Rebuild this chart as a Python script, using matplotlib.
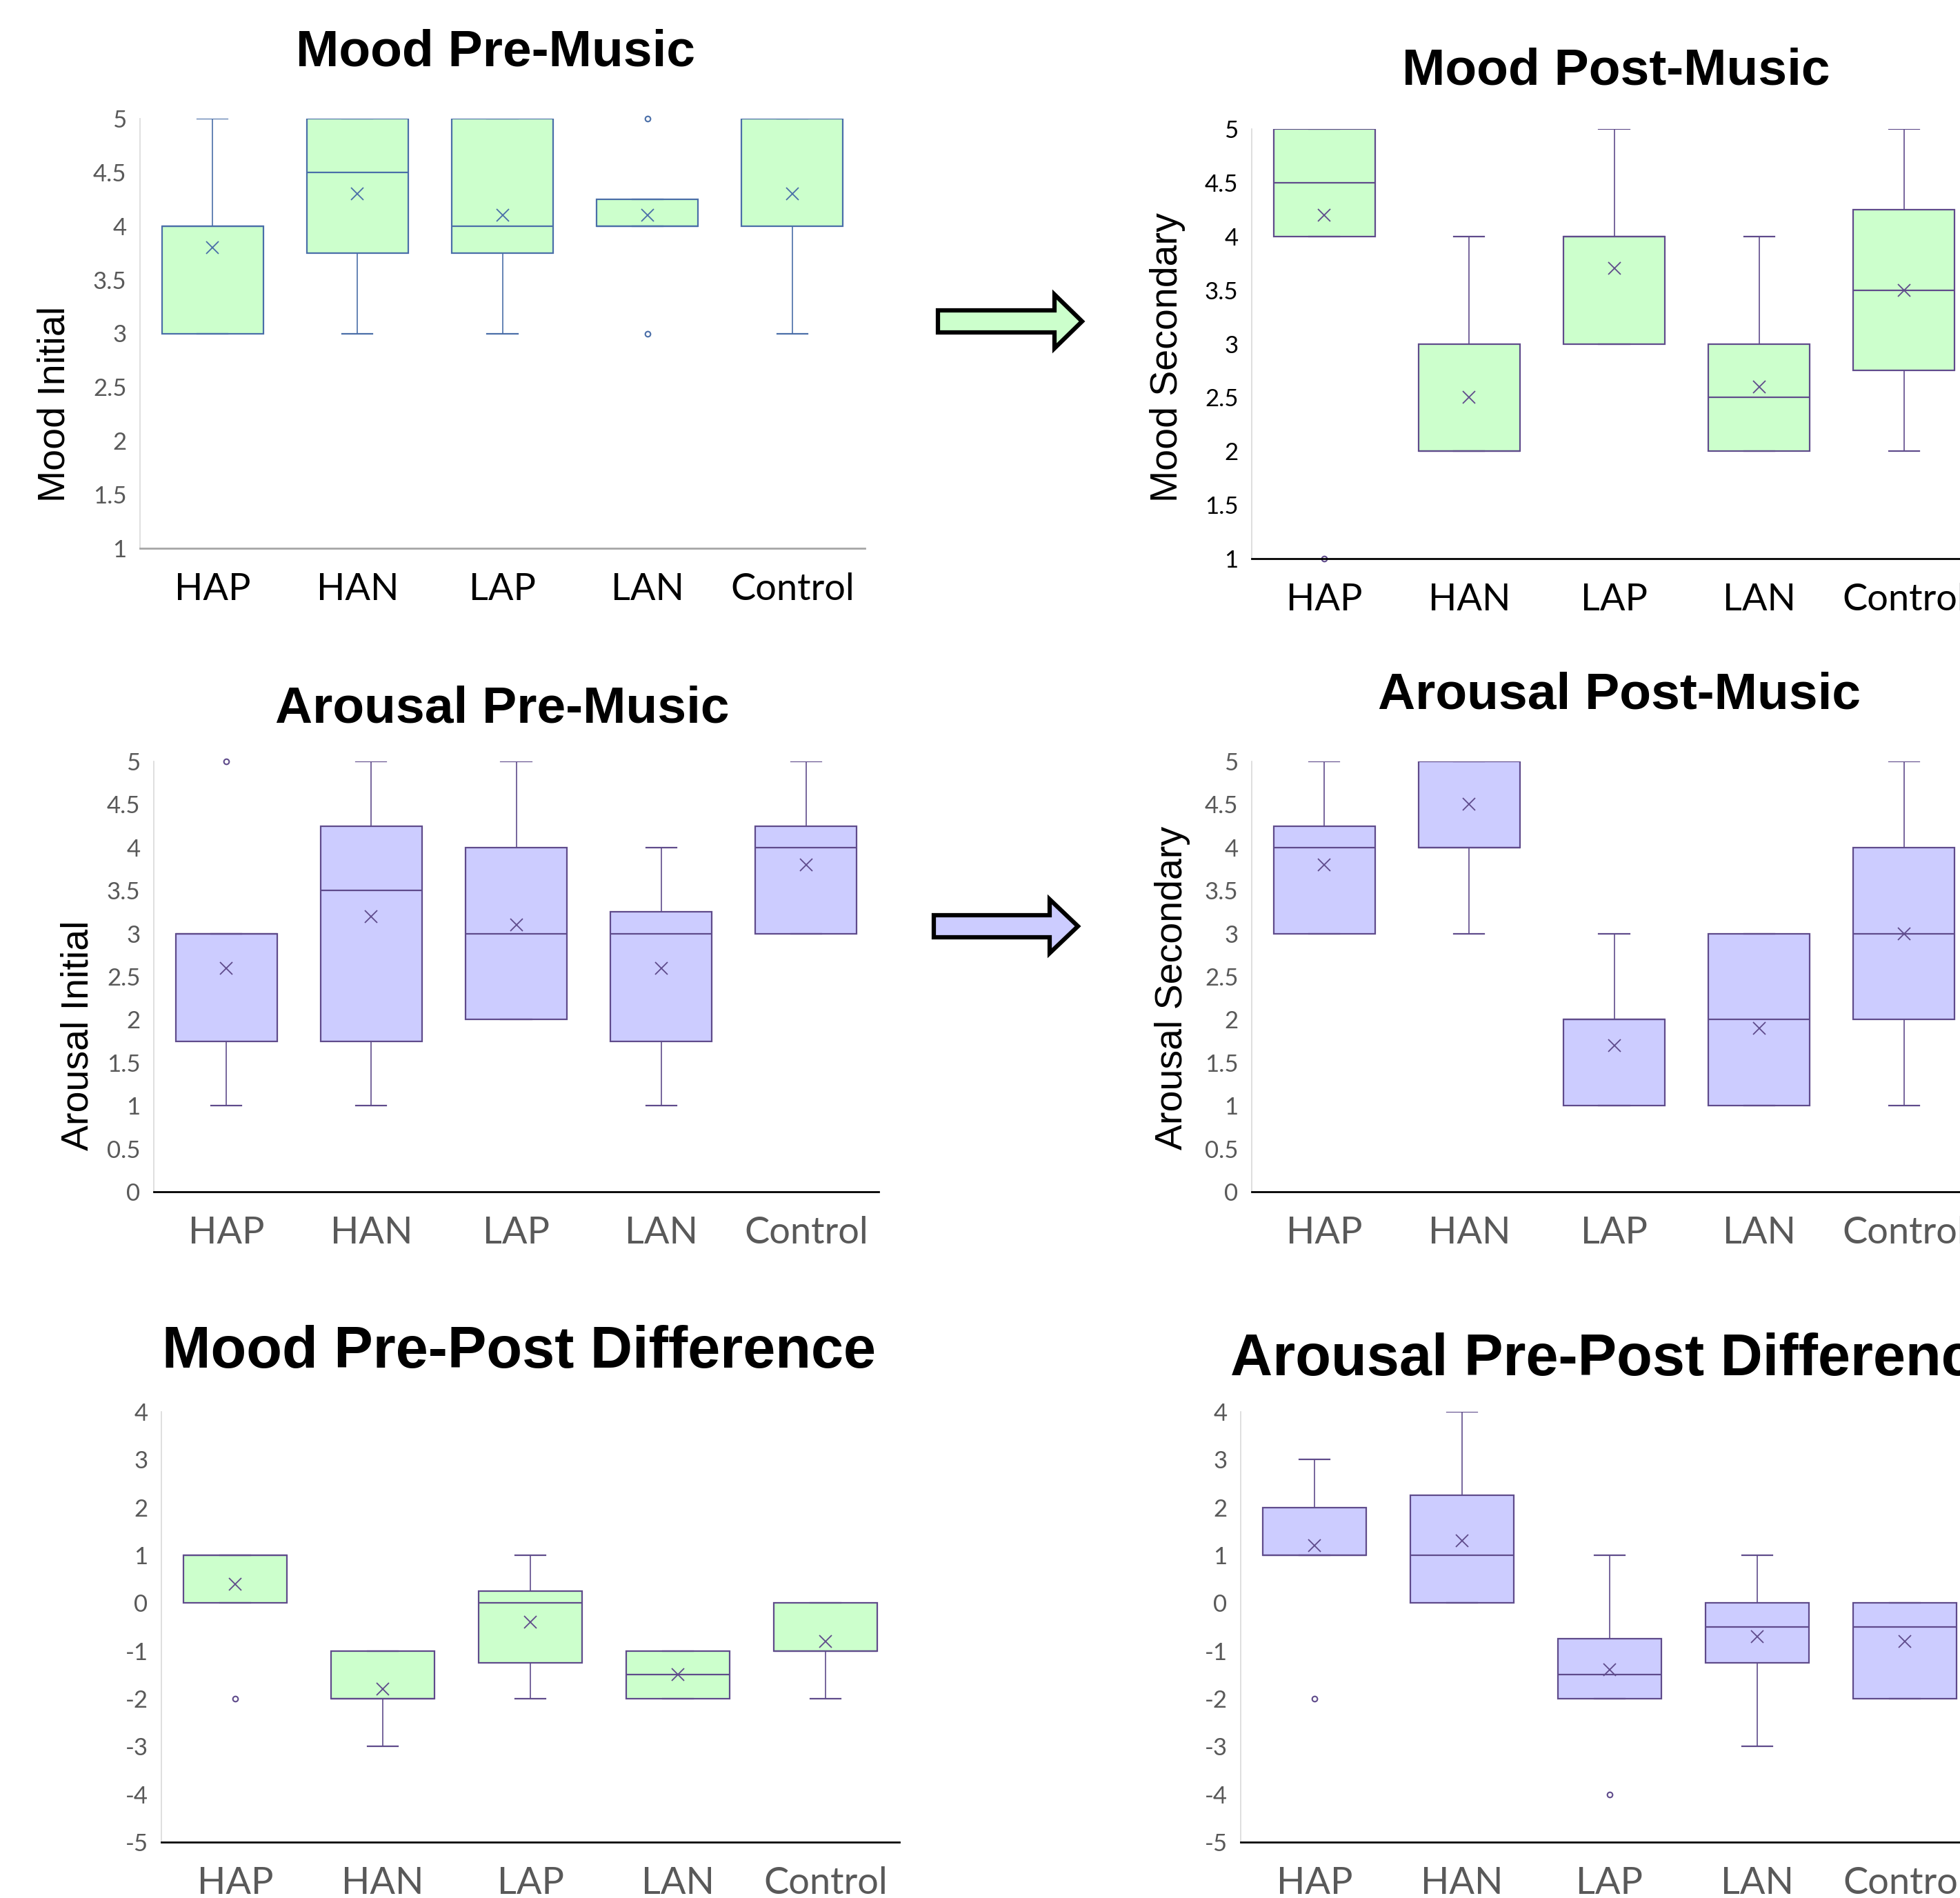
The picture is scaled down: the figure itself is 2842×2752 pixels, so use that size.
import matplotlib
matplotlib.use("Agg")
import matplotlib.pyplot as plt
from matplotlib.patches import Polygon

W, H = 2842, 2752

groups = ["HAP", "HAN", "LAP", "LAN", "Control"]

# --- Mood pre-music ---
mood_pre_q1 = [3, 3.75, 3.75, 4, 4]
mood_pre_med = [4, 4.5, 4, 4, 5]
mood_pre_q3 = [4, 5, 5, 4.25, 5]
mood_pre_lo = [3, 3, 3, 4, 3]
mood_pre_hi = [5, 5, 5, 4.25, 5]
mood_pre_mean = [3.8, 4.3, 4.1, 4.1, 4.3]
mood_pre_out = [[], [], [], [5, 3], []]

# --- Mood post-music ---
mood_post_q1 = [4, 2, 3, 2, 2.75]
mood_post_med = [4.5, 2, 4, 2.5, 3.5]
mood_post_q3 = [5, 3, 4, 3, 4.25]
mood_post_lo = [4, 2, 3, 2, 2]
mood_post_hi = [5, 4, 5, 4, 5]
mood_post_mean = [4.2, 2.5, 3.7, 2.6, 3.5]
mood_post_out = [[1], [], [], [], []]

# --- Arousal pre-music ---
ar_pre_q1 = [1.75, 1.75, 2, 1.75, 3]
ar_pre_med = [3, 3.5, 3, 3, 4]
ar_pre_q3 = [3, 4.25, 4, 3.25, 4.25]
ar_pre_lo = [1, 1, 2, 1, 3]
ar_pre_hi = [3, 5, 5, 4, 5]
ar_pre_mean = [2.6, 3.2, 3.1, 2.6, 3.8]
ar_pre_out = [[5], [], [], [], []]

# --- Arousal post-music ---
ar_post_q1 = [3, 4, 1, 1, 2]
ar_post_med = [4, 4, 2, 2, 3]
ar_post_q3 = [4.25, 5, 2, 3, 4]
ar_post_lo = [3, 3, 1, 1, 1]
ar_post_hi = [5, 5, 3, 3, 5]
ar_post_mean = [3.8, 4.5, 1.7, 1.9, 3.0]
ar_post_out = [[], [], [], [], []]

# --- Mood difference ---
mood_diff_q1 = [0, -2, -1.25, -2, -1]
mood_diff_med = [1, -2, 0, -1.5, -1]
mood_diff_q3 = [1, -1, 0.25, -1, 0]
mood_diff_lo = [0, -3, -2, -2, -2]
mood_diff_hi = [1, -1, 1, -1, 0]
mood_diff_mean = [0.4, -1.8, -0.4, -1.5, -0.8]
mood_diff_out = [[-2], [], [], [], []]

# --- Arousal difference ---
ar_diff_q1 = [1, 0, -2, -1.25, -2]
ar_diff_med = [1, 1, -1.5, -0.5, -0.5]
ar_diff_q3 = [2, 2.25, -0.75, 0, 0]
ar_diff_lo = [1, 0, -2, -3, -2]
ar_diff_hi = [3, 4, 1, 1, 0]
ar_diff_mean = [1.2, 1.3, -1.4, -0.7, -0.8]
ar_diff_out = [[-2], [], [-4], [], []]

GREEN = "#ccffcc"
LILAC = "#ccccff"
BLUE_EDGE = "#4a6ea8"
PURPLE_EDGE = "#5f4b8b"
GREY_TXT = "#595959"

fig = plt.figure(figsize=(W / 100, H / 100), dpi=100)


def make_stats(q1, med, q3, lo, hi, mean, out):
    stats = []
    for i in range(len(groups)):
        stats.append(dict(q1=q1[i], med=med[i], q3=q3[i], whislo=lo[i],
                          whishi=hi[i], mean=mean[i], fliers=out[i],
                          label=groups[i]))
    return stats


def panel(box, stats, fill, edge, ylim, step, xcol, ycol, base_col):
    l, t, r, b = box
    ax = fig.add_axes([l / W, 1 - b / H, (r - l) / W, (b - t) / H])
    res = ax.bxp(stats, positions=range(5), widths=0.7, capwidths=0.21,
                 showmeans=True, patch_artist=True,
                 boxprops=dict(facecolor=fill, edgecolor=edge, linewidth=1.6),
                 medianprops=dict(color=edge, linewidth=1.6),
                 whiskerprops=dict(color=edge, linewidth=1.2),
                 capprops=dict(color=edge, linewidth=1.6),
                 meanprops=dict(marker="x", markeredgecolor=edge, markersize=13,
                                markeredgewidth=1.3),
                 flierprops=dict(marker="o", markerfacecolor="white",
                                 markeredgecolor=edge, markersize=5.5,
                                 markeredgewidth=1.5))
    for fl in res["fliers"]:
        fl.set_clip_on(False)
    ax.set_xlim(-0.5, 4.5)
    ax.set_ylim(*ylim)
    ticks = []
    v = ylim[0]
    while v <= ylim[1] + 1e-9:
        ticks.append(v)
        v += step
    ax.set_yticks(ticks)
    ax.set_yticklabels([("%g" % tv) for tv in ticks], family="Lato",
                       fontsize=25, color=ycol)
    ax.set_xticks(range(5))
    ax.set_xticklabels(groups, family="Lato", fontsize=39, color=xcol)
    ax.tick_params(axis="both", length=0)
    ax.tick_params(axis="x", pad=25)
    ax.tick_params(axis="y", pad=14)
    for s in ("top", "right"):
        ax.spines[s].set_visible(False)
    ax.spines["left"].set_color("#d9d9d9")
    ax.spines["left"].set_linewidth(1.2)
    ax.spines["bottom"].set_color(base_col)
    ax.spines["bottom"].set_linewidth(2)
    ax.patch.set_alpha(0)
    return ax


def ftext(x, y, s, **kw):
    fig.text(x / W, 1 - y / H, s, **kw)


def arrow(x0, x1, yc, bh, hh, hl, fc):
    pts = [(x0, yc - bh), (x1 - hl, yc - bh), (x1 - hl, yc - hh), (x1, yc),
           (x1 - hl, yc + hh), (x1 - hl, yc + bh), (x0, yc + bh)]
    pts = [(px / W, 1 - py / H) for px, py in pts]
    fig.patches.append(Polygon(pts, closed=True, transform=fig.transFigure,
                               facecolor=fc, edgecolor="black", linewidth=4.5,
                               joinstyle="miter"))


title_kw = dict(family="Liberation Sans", weight="bold", ha="center",
                va="center", color="black")
ylab_kw = dict(family="Liberation Sans", rotation=90, ha="center",
               va="center", fontsize=40, color="black")

# row 1
panel((203, 172, 1254, 795),
      make_stats(mood_pre_q1, mood_pre_med, mood_pre_q3, mood_pre_lo,
                 mood_pre_hi, mood_pre_mean, mood_pre_out),
      GREEN, BLUE_EDGE, (1, 5), 0.5, "black", GREY_TXT, "#a6a6a6")
ftext(719, 76, "Mood Pre-Music", fontsize=54, **title_kw)
ftext(80, 586, "Mood Initial", **ylab_kw)

panel((1815, 187, 2866, 810),
      make_stats(mood_post_q1, mood_post_med, mood_post_q3, mood_post_lo,
                 mood_post_hi, mood_post_mean, mood_post_out),
      GREEN, PURPLE_EDGE, (1, 5), 0.5, "black", "black", "black")
ftext(2343, 103, "Mood Post-Music", fontsize=54, **title_kw)
ftext(1693, 518, "Mood Secondary", **ylab_kw)

arrow(1360, 1569, 466, 16, 39, 40, GREEN)

# row 2
panel((223, 1104, 1274, 1728),
      make_stats(ar_pre_q1, ar_pre_med, ar_pre_q3, ar_pre_lo, ar_pre_hi,
                 ar_pre_mean, ar_pre_out),
      LILAC, PURPLE_EDGE, (0, 5), 0.5, GREY_TXT, GREY_TXT, "black")
ftext(728, 1028, "Arousal Pre-Music", fontsize=54, **title_kw)
ftext(114, 1501, "Arousal Initial", **ylab_kw)

panel((1815, 1104, 2866, 1728),
      make_stats(ar_post_q1, ar_post_med, ar_post_q3, ar_post_lo,
                 ar_post_hi, ar_post_mean, ar_post_out),
      LILAC, PURPLE_EDGE, (0, 5), 0.5, GREY_TXT, GREY_TXT, "black")
ftext(2348, 1008, "Arousal Post-Music", fontsize=54, **title_kw)
ftext(1700, 1432, "Arousal Secondary", **ylab_kw)

arrow(1354, 1563, 1343, 16, 39, 41, LILAC)

# row 3
panel((234, 2047, 1304, 2671),
      make_stats(mood_diff_q1, mood_diff_med, mood_diff_q3, mood_diff_lo,
                 mood_diff_hi, mood_diff_mean, mood_diff_out),
      GREEN, PURPLE_EDGE, (-5, 4), 1, GREY_TXT, GREY_TXT, "black")
ftext(752, 1961, "Mood Pre-Post Difference", fontsize=61, **title_kw)

panel((1799, 2047, 2869, 2671),
      make_stats(ar_diff_q1, ar_diff_med, ar_diff_q3, ar_diff_lo,
                 ar_diff_hi, ar_diff_mean, ar_diff_out),
      LILAC, PURPLE_EDGE, (-5, 4), 1, GREY_TXT, GREY_TXT, "black")
kw = dict(title_kw)
kw["ha"] = "left"
ftext(1784, 1972, "Arousal Pre-Post Difference", fontsize=61, **kw)

fig.savefig("out.png", dpi=100)
